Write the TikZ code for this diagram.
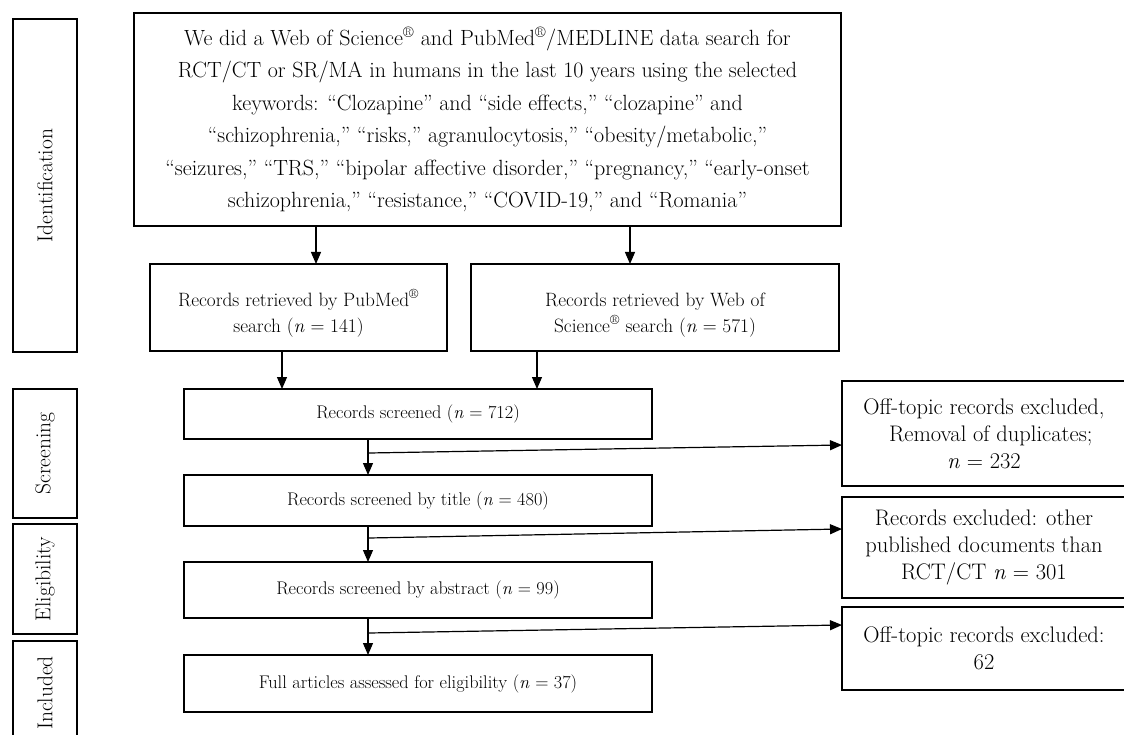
\documentclass[tikz,border=0pt]{standalone}
\usetikzlibrary{arrows.meta,positioning}

\begin{document}
\begin{tikzpicture}[x=1pt,y=-1pt,node distance=36pt,>={Triangle[length=12pt,width=10pt]}]
    \tikzstyle{box}=[draw,line width=1.6pt,align=center,inner sep=0pt,outer sep=0pt]
    \tikzstyle{main}=[box,minimum width=468pt,font=\fontsize{18.3}{24}\selectfont]
    \tikzstyle{retr}=[box,minimum height=87pt,font=\fontsize{19.3}{26}\selectfont]
    \tikzstyle{excl}=[box,minimum width=284pt,font=\fontsize{22.5}{27}\selectfont]
    \tikzstyle{stage}=[draw,line width=2.4pt,minimum height=64pt,rotate=90,inner sep=0pt,font=\fontsize{21.5}{24}\selectfont]
    \tikzstyle{flow}=[->,line width=1.2pt]
    \useasboundingbox (0,0) rectangle (1124,735);
    \node[stage,minimum width=333pt] (ident) at (45,185.5) {Identification};
    \node[stage,minimum width=129pt] (screen) at (45,453.5) {Screening};
    \node[stage,minimum width=110pt] (elig) at (45,579) {Eligibility};
    \node[stage,minimum width=104pt] (incl) at (45,693) {Included};
    \node[box,minimum width=707pt,minimum height=213pt,font=\fontsize{22}{32.5}\selectfont] (search) at (487.5,119.5)
        {We did a Web of Science\textsuperscript{®} and PubMed\textsuperscript{®}/MEDLINE data search for\\
         RCT/CT or SR/MA in humans in the last 10 years using the selected\\
         keywords: “Clozapine” and “side effects,” “clozapine” and\\
         “schizophrenia,” “risks,” agranulocytosis,” “obesity/metabolic,”\\
         “seizures,” “TRS,” “bipolar affective disorder,” “pregnancy,” “early-onset\\
         schizophrenia,” “resistance,” “COVID-19,” and “Romania”};
    \node[retr,minimum width=297pt] (pubmed) at (298.5,307.5)
        {\rule{0pt}{28pt}Records retrieved by PubMed\textsuperscript{®}\\ search (\textit{n} = 141)};
    \node[retr,minimum width=368pt] (wos) at (655,307.5)
        {\rule{0pt}{28pt}Records retrieved by Web of\\ Science\textsuperscript{®} search (\textit{n} = 571)};
    \node[main,minimum height=50pt] (screened) at (418,414) {Records screened (\textit{n} = 712)};
    \node[main,minimum height=51pt,below=of screened] (title) {Records screened by title (\textit{n} = 480)};
    \node[main,minimum height=56pt,below=of title] (abstract) {Records screened by abstract (\textit{n} = 99)};
    \node[main,minimum height=57pt,below=37pt of abstract] (full) {Full articles assessed for eligibility (\textit{n} = 37)};
    \node[excl,minimum height=105pt,anchor=north west] (exdup) at (842,381)
        {Off-topic records excluded,\\ \ \ Removal of duplicates;\\ \textit{n} = 232};
    \node[excl,minimum height=101pt,below=11pt of exdup] (exdoc)
        {Records excluded: other\\ published documents than\\ RCT/CT \textit{n} = 301};
    \node[excl,minimum height=83pt,below=9pt of exdoc] (exoff)
        {Off-topic records excluded:\\ 62};
    \draw[flow] ([xshift=-171.5pt]search.south) -- ([xshift=17.5pt]pubmed.north);
    \draw[flow] ([xshift=142.5pt]search.south) -- ([xshift=-25pt]wos.north);
    \draw[flow] ([xshift=-16.5pt]pubmed.south) -- ([xshift=-136pt]screened.north);
    \draw[flow] ([xshift=-118pt]wos.south) -- ([xshift=119pt]screened.north);
    \draw[flow] ([xshift=-50pt]screened.south) -- ([xshift=-50pt]title.north);
    \draw[flow] ([xshift=-50pt]title.south) -- ([xshift=-50pt]abstract.north);
    \draw[flow] ([xshift=-50pt]abstract.south) -- ([xshift=-50pt]full.north);
    \coordinate (b1) at (369,453);
    \coordinate (b2) at (369,538);
    \coordinate (b3) at (369,633);
    \draw[flow] (b1) -- ([yshift=-11.5pt]exdup.west);
    \draw[flow] (b2) -- ([yshift=18.5pt]exdoc.west);
    \draw[flow] (b3) -- ([yshift=23.5pt]exoff.west);
\end{tikzpicture}
\end{document}
